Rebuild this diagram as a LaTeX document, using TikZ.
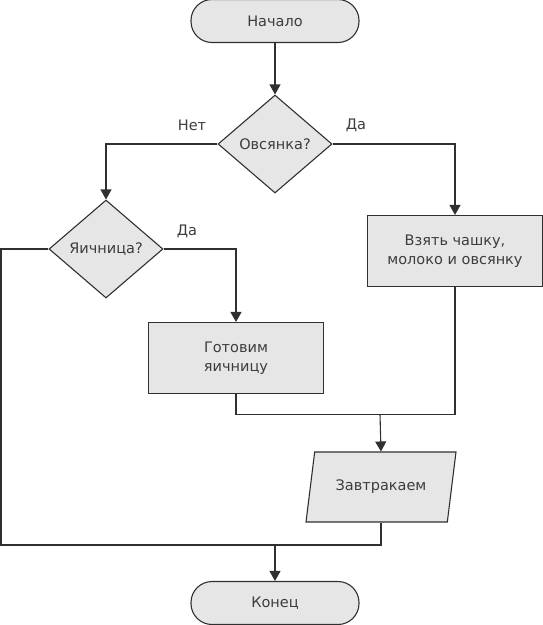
\documentclass[tikz,border=0pt]{standalone}
\usepackage{fontspec}
\setmainfont{DejaVu Sans}
\usetikzlibrary{shapes.geometric,arrows.meta}
\definecolor{boxfill}{HTML}{E6E6E6}
\definecolor{linegray}{HTML}{303030}
\definecolor{textgray}{HTML}{3C3C3C}
\tikzset{
  every node/.style={font=\fontsize{14.5}{19}\selectfont, text=textgray},
  terminal/.style={draw=linegray, fill=boxfill, line width=1.1pt, rectangle,
    rounded corners=21pt, minimum width=168pt, minimum height=43pt},
  decision/.style={draw=linegray, fill=boxfill, line width=1.1pt, diamond,
    minimum width=114pt, minimum height=98pt, inner sep=0pt},
  process/.style={draw=linegray, fill=boxfill, line width=1.1pt, rectangle,
    minimum width=175pt, minimum height=71pt, align=center},
  io/.style={draw=linegray, fill=boxfill, line width=1.1pt, trapezium,
    trapezium left angle=67, trapezium right angle=113, trapezium stretches body,
    minimum width=150pt, minimum height=70pt},
  flow/.style={draw=linegray, line width=1.1pt},
  arr/.style={flow, -{Triangle[width=11pt,length=10pt]}}
}
\begin{document}
\begin{tikzpicture}[x=1pt, y=-1pt]
        \useasboundingbox (0,0) rectangle (543,625);

        % Draw blocks
        \node[terminal] (start) at (275, 21) {Начало};
        \node[decision] (oats) at (275, 144) {Овсянка?};
        \node[decision] (eggs) at (106, 249) {Яичница?};
        \node[process] (take) at (455, 251) {Взять чашку,\\молоко и овсянку};
        \node[process] (cook) at (236, 358) {Готовим\\яичницу};
        \node[io] (eat) at (381, 487) {Завтракаем};
        \node[terminal] (stop) at (275, 603) {Конец};

        % Draw helper points
        \coordinate (leftdown) at (1, 545);
        \coordinate (merge) at (275, 545);
        \coordinate (split) at (380, 414);

        % Draw connectors
        \draw[arr] (start) -- (oats);
        \draw[arr] (oats.west) -| (eggs.north);
        \draw[arr] (oats.east) -| (take.north);
        \draw[arr] (eggs.east) -| (cook.north);
        \draw[flow] (cook.south) -- ++(0, 20) -| (take.south);
        \draw[arr] (split) -- (eat.north);
        \draw[arr] (eggs.west) -| (leftdown) -| (stop.north);
        \draw[flow] (eat.south) |- (merge);

        % Draw labels
        \node (no1) at (192, 125) {Нет};
        \node (yes1) at (356, 125) {Да};
        \node (yes2) at (187, 231) {Да};
      \end{tikzpicture}
\end{document}
